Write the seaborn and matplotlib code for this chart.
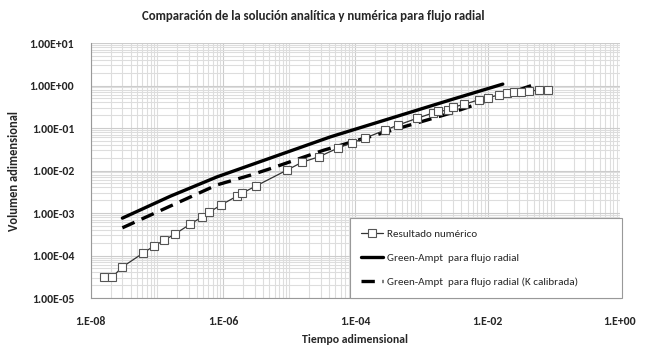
import matplotlib
matplotlib.use("Agg")
import matplotlib.pyplot as plt
import matplotlib.ticker as mticker
import seaborn as sns
import numpy as np

# Resultado numerico
t_num = [1.6e-8, 2.1e-8, 3.0e-8, 6.2e-8, 8.9e-8, 1.29e-7, 1.86e-7, 3.2e-7, 4.8e-7, 6.2e-7,
         9.3e-7, 1.62e-6, 1.95e-6, 3.2e-6, 9.3e-6, 1.58e-5, 2.8e-5, 5.5e-5, 8.9e-5, 1.4e-4,
         2.8e-4, 4.4e-4, 8.6e-4, 1.48e-3, 1.8e-3, 2.5e-3, 3.0e-3, 4.4e-3, 7.3e-3, 1.0e-2,
         1.47e-2, 2.0e-2, 2.5e-2, 3.2e-2, 4.2e-2, 5.9e-2, 8.3e-2]
v_num = [3.1e-5, 3.1e-5, 5.4e-5, 1.15e-4, 1.66e-4, 2.3e-4, 3.2e-4, 5.5e-4, 8.1e-4, 1.05e-3,
         1.55e-3, 2.5e-3, 2.95e-3, 4.4e-3, 1.03e-2, 1.58e-2, 2.1e-2, 3.4e-2, 4.5e-2, 5.8e-2,
         8.9e-2, 0.117, 0.17, 0.225, 0.25, 0.26, 0.31, 0.36, 0.46, 0.51,
         0.60, 0.66, 0.70, 0.70, 0.74, 0.78, 0.78]

# Green-Ampt para flujo radial
t_ga = [3.0e-8, 1.6e-7, 8.1e-7, 5.1e-6, 4.2e-5, 2.75e-3, 1.7e-2]
v_ga = [7.6e-4, 2.5e-3, 7.1e-3, 1.95e-2, 6.2e-2, 0.46, 1.08]

# Green-Ampt para flujo radial (K calibrada)
t_gak = [3.0e-8, 8.1e-7, 2.6e-6, 5.1e-6, 3.3e-5, 2.75e-3, 4.8e-2]
v_gak = [4.5e-4, 4.6e-3, 7.8e-3, 1.1e-2, 3.0e-2, 0.224, 1.02]

sns.set_style("white")
plt.rcParams['font.family'] = ['Carlito', 'DejaVu Sans']

fig = plt.figure(figsize=(6.49, 3.47), dpi=100)
ax = fig.add_axes([0.140, 0.141, 0.815, 0.735])

sns.lineplot(x=t_ga, y=v_ga, ax=ax, color='black', linewidth=2.4, sort=False,
             label='Green-Ampt  para flujo radial')
sns.lineplot(x=t_gak, y=v_gak, ax=ax, color='black', linewidth=2.4, sort=False,
             label='Green-Ampt  para flujo radial (K calibrada)')
ax.lines[-1].set_dashes([4, 2.3])
sns.lineplot(x=t_num, y=v_num, ax=ax, color='#333333', linewidth=0.9, sort=False,
             marker='s', markersize=5.5, markerfacecolor='white', markeredgecolor='#555555',
             markeredgewidth=0.8, label='Resultado numérico')

ax.set_xscale('log')
ax.set_yscale('log')
ax.set_xlim(1e-8, 1)
ax.set_ylim(1e-5, 10)

ax.xaxis.set_major_locator(mticker.LogLocator(base=100))
ax.xaxis.set_minor_locator(mticker.LogLocator(base=10, subs=np.arange(1, 10), numticks=50))
ax.yaxis.set_major_locator(mticker.LogLocator(base=10, numticks=20))
ax.yaxis.set_minor_locator(mticker.LogLocator(base=10, subs=np.arange(2, 10), numticks=50))

def xfmt(v, pos):
    e = int(round(np.log10(v)))
    return '1.E%s%02d' % ('+' if e >= 0 else '-', abs(e))

def yfmt(v, pos):
    e = int(round(np.log10(v)))
    return '1.00E%s%02d' % ('+' if e >= 0 else '-', abs(e))

ax.xaxis.set_major_formatter(mticker.FuncFormatter(xfmt))
ax.xaxis.set_minor_formatter(mticker.NullFormatter())
ax.yaxis.set_major_formatter(mticker.FuncFormatter(yfmt))
ax.yaxis.set_minor_formatter(mticker.NullFormatter())

ax.grid(which='major', color='#cccccc', linewidth=0.8)
ax.grid(which='minor', color='#dddddd', linewidth=0.8)
ax.set_axisbelow(True)
for s in ['top', 'right']:
    ax.spines[s].set_visible(False)
for s in ['left', 'bottom']:
    ax.spines[s].set_color('#999999')
    ax.spines[s].set_linewidth(0.8)

ax.tick_params(axis='x', which='major', length=4, color='#999999', pad=9, labelsize=8.5)
ax.tick_params(axis='y', which='major', length=4, color='#999999', pad=8, labelsize=8.5)
ax.tick_params(which='minor', length=0)
for lab in ax.get_xticklabels() + ax.get_yticklabels():
    lab.set_fontweight('bold')

ax.set_xlabel('Tiempo adimensional', fontsize=8.5, fontweight='bold', labelpad=5)
ax.set_ylabel('Volumen adimensional', fontsize=9, fontweight='bold')
ax.yaxis.set_label_coords(-0.134, 0.5)
fig.text(0.482, 0.955, 'Comparación de la solución analítica y numérica para flujo radial',
         ha='center', va='center', fontsize=9.3, fontweight='bold')

handles, labels = ax.get_legend_handles_labels()
order = [2, 0, 1]
leg = ax.legend([handles[i] for i in order], [labels[i] for i in order],
                loc='lower left', bbox_to_anchor=(0.49, 0.0, 0.515, 0.325),
                mode='expand', frameon=True, fancybox=False, fontsize=8,
                handlelength=2.0, labelspacing=1.3, borderpad=1.0, borderaxespad=0,
                handletextpad=0.3)
leg.get_frame().set_edgecolor('#999999')
leg.get_frame().set_linewidth(0.8)
leg.get_frame().set_facecolor('white')
leg.get_frame().set_alpha(1)

fig.savefig('out.png', dpi=100)
